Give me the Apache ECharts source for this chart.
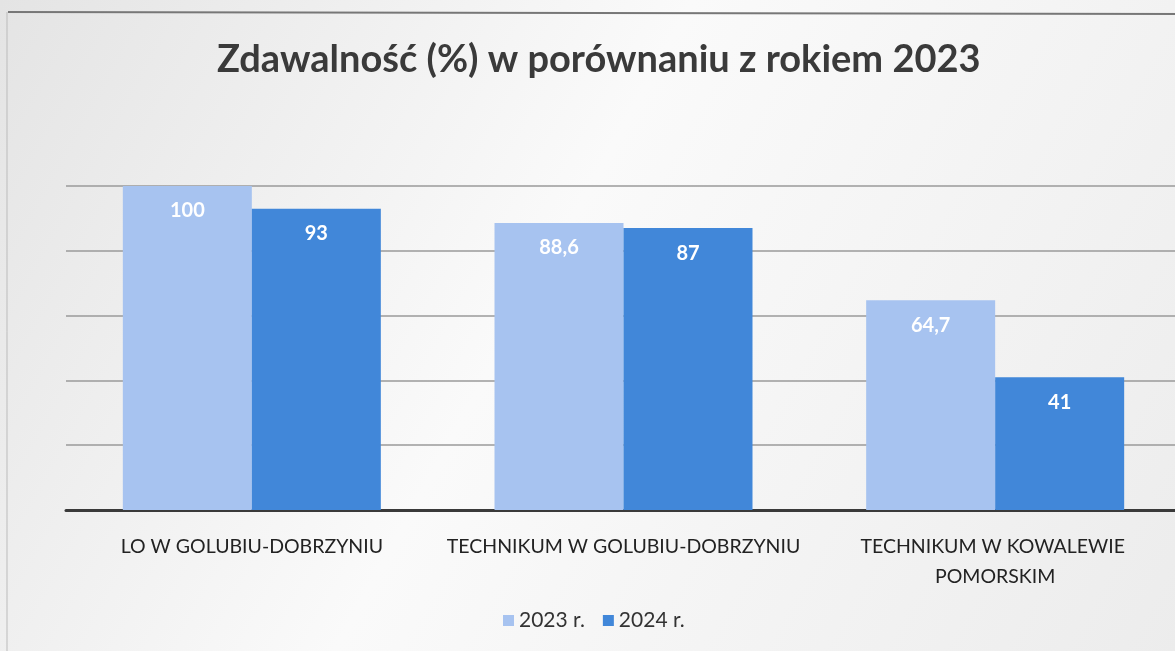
<!DOCTYPE html>
<html lang="pl">
<head>
  <meta charset="UTF-8">
  <title>Zdawalność</title>
  <script src="https://cdn.jsdelivr.net/npm/echarts@6.0.0/dist/echarts.min.js"></script>
  <style>
    html, body { margin: 0; padding: 0; overflow: hidden; }
    /* wykres jest odrobinę szerszy niż okno - na skanie siatka wychodzi za prawą krawędź */
    #chart { width: 1182px; height: 651px; }
  </style>
</head>
<body>
  <div id="chart"></div>
  <script>
    // dane
    const categories = ['LO W GOLUBIU-DOBRZYNIU', 'TECHNIKUM W GOLUBIU-DOBRZYNIU', 'TECHNIKUM W KOWALEWIE POMORSKIM']
    const seriesNames = ['2023 r.', '2024 r.']
    const values2023 = [100, 88.6, 64.7]
    const values2024 = [93, 87, 41]

    const font = 'Lato, "Open Sans", sans-serif'
    const chart = echarts.init(document.getElementById('chart'), null, { renderer: 'canvas' })

    const labelOpt = {
      show: true,
      position: 'insideTop',
      distance: 15,
      color: '#fff',
      fontWeight: 'bold',
      fontSize: 20,
      fontFamily: font,
      formatter: p => String(p.value).replace('.', ',')
    }

    chart.setOption({
      backgroundColor: {
        type: 'linear', x: 0, y: 0, x2: 1, y2: 1,
        colorStops: [
          { offset: 0, color: '#e4e4e4' },
          { offset: 0.45, color: '#fafafa' },
          { offset: 1, color: '#ececec' }
        ]
      },
      title: {
        text: 'Zdawalność (%) w porównaniu z rokiem 2023',
        left: 212,
        top: 36,
        textStyle: { fontFamily: font, fontSize: 38, fontWeight: 'bold', color: '#3a3a3a' }
      },
      legend: {
        data: seriesNames,
        bottom: 15,
        left: 498,
        itemWidth: 11,
        itemHeight: 11,
        itemGap: 18,
        icon: 'rect',
        textStyle: { fontFamily: font, fontSize: 21, color: '#333' }
      },
      grid: { left: 66, right: 0, top: 186, bottom: 141, containLabel: false },
      xAxis: {
        type: 'category',
        data: categories,
        axisLine: { lineStyle: { color: '#3a3a3a', width: 3 } },
        axisTick: { show: false },
        axisLabel: {
          interval: 0,
          margin: 22,
          width: 368,
          overflow: 'break',
          lineHeight: 30,
          fontFamily: font,
          fontSize: 19.5,
          color: '#222'
        }
      },
      yAxis: {
        type: 'value',
        min: 0,
        max: 100,
        interval: 20,
        axisLabel: { show: false },
        axisLine: { show: false },
        axisTick: { show: false },
        splitLine: { lineStyle: { color: '#9a9a9a', width: 1.5 } }
      },
      series: [{
        name: seriesNames[0],
        type: 'bar',
        data: values2023,
        barWidth: 129,
        barGap: '0%',
        itemStyle: { color: '#a7c3f0' },
        label: labelOpt
      }, {
        name: seriesNames[1],
        type: 'bar',
        data: values2024,
        barWidth: 129,
        itemStyle: { color: '#4187d9' },
        label: labelOpt
      }],
      graphic: [{
        type: 'line',
        shape: { x1: 8, y1: 12, x2: 1182, y2: 14 },
        style: { stroke: '#777', lineWidth: 2 }
      }, {
        type: 'line',
        shape: { x1: 7, y1: 12, x2: 7, y2: 651 },
        style: { stroke: '#bbb', lineWidth: 1 }
      }]
    })
  </script>
</body>
</html>
